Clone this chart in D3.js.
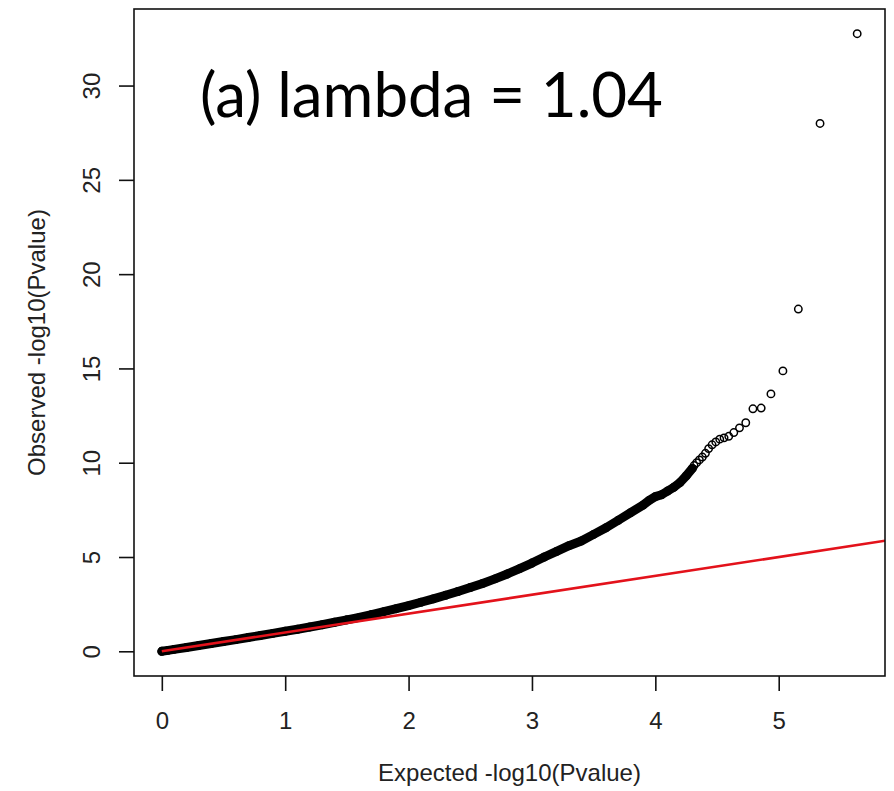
<!DOCTYPE html>
<html><head><meta charset="utf-8">
<script src="https://cdn.jsdelivr.net/npm/d3@7"></script>
<style>body{margin:0;background:#fff}</style></head>
<body><svg id="c" width="894" height="791"></svg>
<script>
// Expected -log10(p) (x) and observed -log10(p) (y)
const expected = [0,0.05,0.1,0.2,0.3,0.4,0.5,0.6,0.7,0.8,0.9,1.0,1.1,1.2,1.3,1.4,1.5,1.6,1.7,1.8,1.9,2.0,2.1,2.2,2.3,2.4,2.5,2.6,2.7,2.8,2.9,3.0,3.1,3.2,3.3,3.4,3.5,3.6,3.7,3.8,3.9,3.95,4.0,4.05,4.1,4.15,4.2,4.25,4.3,
  4.314,4.335,4.357,4.381,4.406,4.432,4.46,4.49,4.522,4.557,4.595,4.636,4.682,4.733,4.791,4.858,4.937,5.034,5.159,5.335,5.636];
const observed = [0,0.05,0.1,0.2,0.31,0.41,0.52,0.62,0.73,0.84,0.95,1.06,1.17,1.29,1.41,1.54,1.67,1.8,1.95,2.1,2.26,2.42,2.6,2.78,2.97,3.17,3.38,3.6,3.84,4.1,4.38,4.68,5.0,5.3,5.6,5.85,6.2,6.55,6.95,7.35,7.75,8.0,8.2,8.3,8.5,8.7,8.95,9.3,9.7,
  9.85,10.0,10.15,10.3,10.5,10.75,10.95,11.1,11.25,11.32,11.4,11.6,11.85,12.12,12.86,12.9,13.65,14.87,18.15,27.99,32.75];
const denseUpTo = 4.3;       // beyond this the points are drawn apart
const xTicks = [0,1,2,3,4,5];
const yTicks = [0,5,10,15,20,25,30];
const titleText = "(a) lambda = 1.04";
const xLabel = "Expected -log10(Pvalue)";
const yLabel = "Observed -log10(Pvalue)";
const refLine = [0, 5.8614];   // y = x reference

const box = {left:134, right:885, top:9, bottom:676};
const xMax = d3.max(expected), yMax = d3.max(observed);
const x = d3.scaleLinear().domain([-0.04*xMax, xMax*1.04]).range([box.left, box.right]);
const y = d3.scaleLinear().domain([-0.04*yMax, yMax*1.04]).range([box.bottom, box.top]);

const svg = d3.select("#c");
const axisFont = "'Liberation Sans', Arial, sans-serif";
const axisSize = 24;
svg.append("defs").append("clipPath").attr("id","clip")
  .append("rect").attr("x",box.left).attr("y",box.top)
  .attr("width",box.right-box.left).attr("height",box.bottom-box.top);

const pts = expected.map((e,i)=>({x:e,y:observed[i]}));
const g = svg.append("g").attr("clip-path","url(#clip)");

// dense band of overlapping circles
const line = d3.line().x(d=>x(d.x)).y(d=>y(d.y));
g.append("path").datum(pts.filter(d=>d.x<=denseUpTo))
  .attr("d", line)
  .attr("fill","none").attr("stroke","#000").attr("stroke-width",9)
  .attr("stroke-linecap","round").attr("stroke-linejoin","round");
g.selectAll("circle").data(pts).join("circle")
  .attr("cx",d=>x(d.x)).attr("cy",d=>y(d.y)).attr("r",3.7)
  .attr("fill","none").attr("stroke","#000").attr("stroke-width",1.5);

// red y = x line
g.append("line").attr("x1",x(refLine[0])).attr("y1",y(refLine[0]))
  .attr("x2",x(refLine[1])).attr("y2",y(refLine[1]))
  .attr("stroke","#e3121b").attr("stroke-width",2.6);

// box
svg.append("rect").attr("x",box.left).attr("y",box.top)
  .attr("width",box.right-box.left).attr("height",box.bottom-box.top)
  .attr("fill","none").attr("stroke","#111").attr("stroke-width",1.6);

// x axis
const xa = svg.append("g").attr("transform",`translate(0,${box.bottom})`)
  .call(d3.axisBottom(x).tickValues(xTicks).tickSize(15).tickPadding(21).tickFormat(d3.format("d")));
xa.select(".domain").remove();
xa.selectAll("line").attr("stroke","#111").attr("stroke-width",1.6);
xa.selectAll("text").attr("font-family",axisFont).attr("font-size",axisSize).attr("fill","#222");

// y axis
const ya = svg.append("g").attr("transform",`translate(${box.left},0)`)
  .call(d3.axisLeft(y).tickValues(yTicks).tickSize(15).tickFormat(d3.format("d")));
ya.select(".domain").remove();
ya.selectAll("line").attr("stroke","#111").attr("stroke-width",1.6);
ya.selectAll("text").attr("font-family",axisFont).attr("font-size",axisSize).attr("fill","#222")
  .attr("x",null).attr("dy",null).attr("text-anchor","middle")
  .attr("transform","translate(-34,0) rotate(-90)");

// axis labels
svg.append("text").attr("x",(box.left+box.right)/2).attr("y",781)
  .attr("text-anchor","middle").attr("font-family",axisFont).attr("font-size",axisSize).attr("fill","#222")
  .text(xLabel);
svg.append("text").attr("transform",`translate(45,${(box.top+box.bottom)/2}) rotate(-90)`)
  .attr("text-anchor","middle").attr("font-family",axisFont).attr("font-size",axisSize).attr("fill","#222")
  .text(yLabel);

// title
const t = svg.append("text").attr("x",200).attr("y",117)
  .attr("font-family","Lato, 'Open Sans', sans-serif").attr("font-size",60).attr("fill","#000")
  .text(titleText);
const w = t.node().getComputedTextLength();
t.attr("font-size", 60*463/w);
</script>
</body></html>
